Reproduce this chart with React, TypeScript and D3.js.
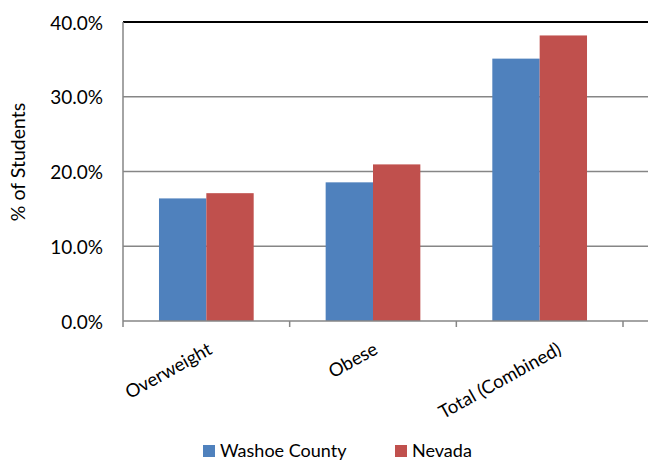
import React from "react";
import * as d3 from "d3";

const categories = ["Overweight", "Obese", "Total (Combined)"];
const seriesNames = ["Washoe County", "Nevada"];
const washoe = [16.4, 18.55, 35.1];
const nevada = [17.1, 20.95, 38.2];
const yTicks = [0, 10, 20, 30, 40];
const colors = ["#4F81BD", "#C0504D"];

const W = 648, H = 462;
const left = 123, plotRight = 623, top = 22, bottom = 321;
const FONT = "Lato, 'Open Sans', sans-serif";
const labelShift = [7, 6, 23];

export default function App() {
  const x = d3.scaleBand().domain(categories).range([left, plotRight]).paddingInner(0).paddingOuter(0);
  const y = d3.scaleLinear().domain([0, 40]).range([bottom, top]);
  const inner = d3.scaleBand().domain(seriesNames).range([0, x.bandwidth()]).paddingInner(0).paddingOuter(0.76);
  const values = [washoe, nevada];
  const tickXs = [...categories.map((c) => x(c)!), plotRight];

  return (
    <svg width={W} height={H} style={{ position: "absolute", left: 0, top: 0, background: "#fff" }}>
      {yTicks.map((t) => (
        <g key={t}>
          {t > 0 && (
            <line x1={left} x2={W} y1={y(t)} y2={y(t)} stroke={t === 40 ? "#000" : "#868686"} strokeWidth={t === 40 ? 2 : 1.5} />
          )}
          <text x={103} y={y(t)} textAnchor="end" dominantBaseline="central" fontFamily={FONT} fontSize={19} fill="#000">
            {t.toFixed(1) + "%"}
          </text>
        </g>
      ))}
      {seriesNames.map((s, si) =>
        categories.map((c, ci) => (
          <rect
            key={s + c}
            x={x(c)! + inner(s)!}
            y={y(values[si][ci])}
            width={inner.bandwidth()}
            height={y(0) - y(values[si][ci])}
            fill={colors[si]}
          />
        ))
      )}
      <line x1={left} x2={left} y1={top} y2={bottom} stroke="#868686" strokeWidth={1.5} />
      <line x1={left} x2={W} y1={bottom} y2={bottom} stroke="#868686" strokeWidth={1.5} />
      {tickXs.map((tx, i) => (
        <line key={i} x1={tx} x2={tx} y1={bottom} y2={bottom + 6} stroke="#868686" strokeWidth={1.5} />
      ))}
      {categories.map((c, i) => {
        const cx = x(c)! + x.bandwidth() / 2 + labelShift[i];
        const cy = 353;
        return (
          <text key={c} x={cx} y={cy} textAnchor="end" fontFamily={FONT} fontSize={18.5} fill="#000" transform={`rotate(-29 ${cx} ${cy})`}>
            {c}
          </text>
        );
      })}
      <text x={0} y={0} transform={`translate(25 ${162}) rotate(-90)`} textAnchor="middle" fontFamily={FONT} fontSize={19.5} fill="#000">
        % of Students
      </text>
      {seriesNames.map((s, i) => {
        const lx = i === 0 ? 203 : 395;
        return (
          <g key={s}>
            <rect x={lx} y={445} width={12} height={12} fill={colors[i]} />
            <text x={lx + 17} y={457} fontFamily={FONT} fontSize={18} fill="#000">
              {s}
            </text>
          </g>
        );
      })}
    </svg>
  );
}
